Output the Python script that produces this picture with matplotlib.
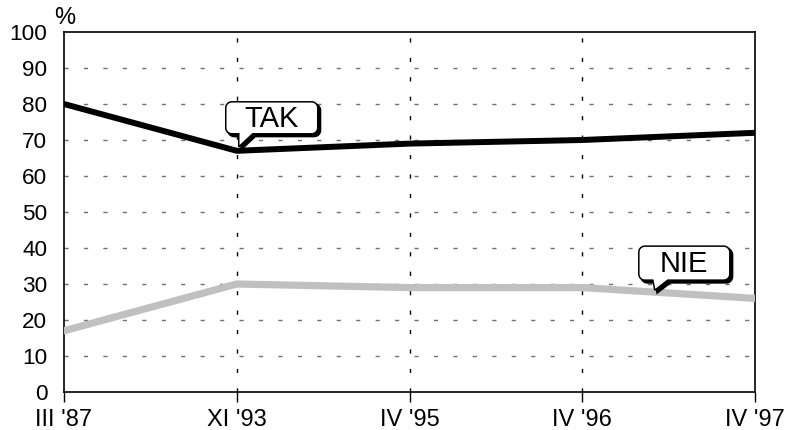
import numpy as np
import matplotlib
matplotlib.use("Agg")
import matplotlib.pyplot as plt
from matplotlib.patches import Polygon
from matplotlib.transforms import IdentityTransform

plt.rcParams['font.family'] = ['Liberation Sans', 'DejaVu Sans']

categories = ["III '87", "XI '93", "IV '95", "IV '96", "IV '97"]
tak = [80, 67, 69, 70, 72]
nie = [17, 30, 29, 29, 26]
yticks = [0, 10, 20, 30, 40, 50, 60, 70, 80, 90, 100]

W, H = 787, 430
fig = plt.figure(figsize=(W / 100, H / 100), dpi=100)
ax = fig.add_axes([64 / W, 1 - 392 / H, (755 - 64) / W, (392 - 32) / H])

x = np.arange(len(categories))
ax.plot(x, nie, color='#c0c0c0', lw=5.2, solid_capstyle='round', zorder=3)
ax.plot(x, tak, color='black', lw=4.3, solid_capstyle='round', zorder=4)

ax.set_xlim(0, len(categories) - 1)
ax.set_ylim(0, 100)
ax.set_xticks(x)
ax.set_xticklabels(categories, fontsize=17)
ax.set_yticks(yticks)
ax.set_yticklabels([str(v) for v in yticks], fontsize=16.2)
ax.tick_params(axis='x', direction='out', length=7, width=1, pad=5)
ax.tick_params(axis='y', length=0, pad=12)

for v in yticks[1:-1]:
    ax.axhline(v, color='#707070', lw=1, dashes=(3, 11), zorder=1)
for xi in x[1:-1]:
    ax.axvline(xi, color='black', lw=1, dashes=(3, 11), zorder=1)

for s in ax.spines.values():
    s.set_linewidth(1.2)
    s.set_color('black')

fig.text(54 / W, 1 - 29 / H, '%', fontsize=17, ha='left', va='bottom')


def callout(tip, dx0, dx1, dytop, dybot, pb0, pb1, label, r=6):
    tx, ty = tip
    x0, x1 = tx + dx0, tx + dx1
    y1, y0 = ty + dytop, ty + dybot
    verts = []
    def arc(cx, cy, a0, a1):
        for a in np.linspace(np.radians(a0), np.radians(a1), 8):
            verts.append((cx + r * np.cos(a), cy + r * np.sin(a)))
    verts.append((x0 + r, y1))
    verts.append((x1 - r, y1))
    arc(x1 - r, y1 - r, 90, 0)
    verts.append((x1, y0 + r))
    arc(x1 - r, y0 + r, 0, -90)
    verts.append((tx + pb1, y0))
    verts.append((tx, ty))
    verts.append((tx + pb0, y0))
    verts.append((x0 + r, y0))
    arc(x0 + r, y0 + r, -90, -180)
    verts.append((x0, y1 - r))
    arc(x0 + r, y1 - r, 180, 90)
    v = np.array(verts)
    shadow = Polygon(v + np.array([2.5, -2.5]), closed=True, transform=IdentityTransform(),
                     facecolor='black', edgecolor='black', lw=1.5, zorder=6)
    body = Polygon(v, closed=True, transform=IdentityTransform(),
                   facecolor='white', edgecolor='black', lw=1.1, zorder=7)
    fig.patches.append(shadow)
    fig.patches.append(body)
    fig.text((x0 + x1) / 2 / W, (y0 + y1) / 2 / H - 0.002, label, fontsize=21,
             ha='center', va='center', zorder=8)


fig.canvas.draw()
tip_tak = ax.transData.transform((1, tak[1]))
tip_tak = (tip_tak[0] + 2, tip_tak[1] + 4)
callout(tip_tak, -13, 79, 45, 13, 0, 14, 'TAK')

xn = 3.42
tip_nie = ax.transData.transform((xn, np.interp(xn, x, nie)))
tip_nie = (tip_nie[0], tip_nie[1] + 2)
callout(tip_nie, -16, 75, 44, 10, -2, 13, 'NIE')

fig.savefig('out.png', dpi=100)
